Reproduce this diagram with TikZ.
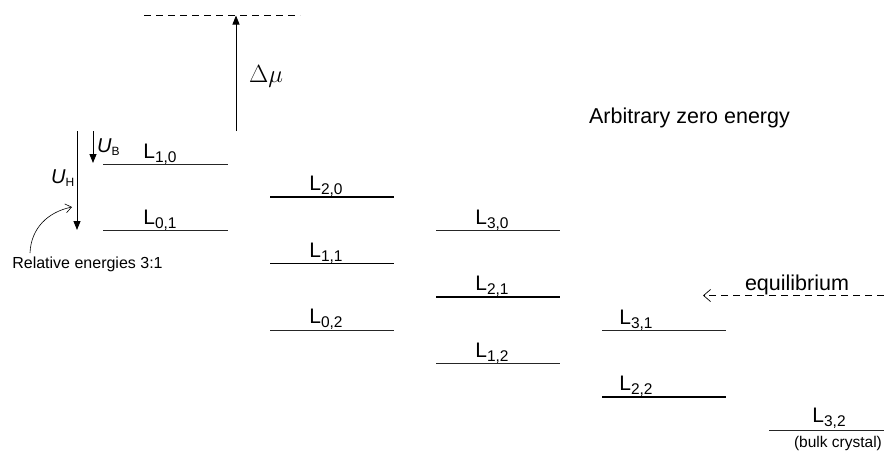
\documentclass[tikz,border=0pt]{standalone}
\usepackage{fontspec}
\setmainfont{Liberation Sans}
\usetikzlibrary{arrows.meta}
\newcommand{\lv}[1]{L\raisebox{-4pt}{\fontsize{15.5}{15.5}\selectfont #1}}
\newcommand{\uu}[1]{\textit{U}\raisebox{-2.5pt}{\fontsize{12}{12}\selectfont #1}}
\begin{document}
\begin{tikzpicture}[x=1pt,y=-1pt,
  thinlvl/.style={line width=0.7pt, draw=black!85},
  thicklvl/.style={line width=1.2pt},
  lbl/.style={anchor=base, inner sep=0pt, font=\fontsize{21}{21}\selectfont},
  txt/.style={anchor=base, inner sep=0pt, font=\fontsize{21.5}{21.5}\selectfont},
  smalltxt/.style={anchor=base, inner sep=0pt, font=\fontsize{16}{16}\selectfont},
  solidarrow/.style={line width=0.8pt, -{Triangle[length=9pt,width=7pt]}},
  dashline/.style={line width=0.8pt, dash pattern=on 7pt off 5pt},
  openarrow/.style={-{Straight Barb[length=7pt,width=12pt,line width=0.7pt]}}
]
\useasboundingbox (0,0) rectangle (884,456);

% top dashed line and Delta mu arrow
\coordinate (zl) at (144,15);
\coordinate (zr) at (300,15);
\draw[dashline] (zl) -- (zr);
\coordinate (dmbot) at (236,131);
\coordinate (dmtop) at (236,15.5);
\draw[solidarrow] (dmbot) -- (dmtop);
\node[inner sep=0pt, font=\fontsize{27}{27}\selectfont] (dmu) at (266,76) {$\Delta\mu$};

% U arrows
\coordinate (uht) at (77,131);
\coordinate (uhb) at (77,230);
\draw[solidarrow] (uht) -- (uhb);
\coordinate (ubt) at (93,131);
\coordinate (ubb) at (93,163);
\draw[solidarrow] (ubt) -- (ubb);
\node[anchor=base west, inner sep=0pt, font=\fontsize{20}{20}\selectfont] (UH) at (51,183.5) {\uu{H}};
\node[anchor=base west, inner sep=0pt, font=\fontsize{20}{20}\selectfont] (UB) at (97,152.5) {\uu{B}};

% column 1
\draw[thinlvl] (103,164) -- (228,164);
\node[lbl] (L10) at (160,158.5) {\lv{1,0}};
\draw[thinlvl] (103,230) -- (228,230);
\node[lbl] (L01) at (160,224.5) {\lv{0,1}};

% column 2
\draw[thicklvl] (270,197) -- (394,197);
\node[lbl] (L20) at (326,190.5) {\lv{2,0}};
\draw[thicklvl] (270,263.5) -- (394,263.5);
\node[lbl] (L11) at (326,257) {\lv{1,1}};
\draw[thinlvl] (270,330) -- (394,330);
\node[lbl] (L02) at (326,323.5) {\lv{0,2}};

% column 3
\draw[thinlvl] (436,230) -- (560,230);
\node[lbl] (L30) at (492,224) {\lv{3,0}};
\draw[thicklvl] (436,297) -- (560,297);
\node[lbl] (L21) at (492,290.5) {\lv{2,1}};
\draw[thinlvl] (436,363) -- (560,363);
\node[lbl] (L12) at (492,357) {\lv{1,2}};

% column 4
\draw[thinlvl] (602,330) -- (726,330);
\node[lbl] (L31) at (636,324) {\lv{3,1}};
\draw[thicklvl] (602,397) -- (726,397);
\node[lbl] (L22) at (636,390.5) {\lv{2,2}};

% column 5
\draw[thinlvl] (769,430) -- (884,430);
\node[lbl] (L32) at (829,422) {\lv{3,2}};
\node[smalltxt, font=\fontsize{15.5}{15.5}\selectfont] (bulk) at (838,447) {(bulk crystal)};

% texts
\node[txt] (zero) at (689.5,123) {Arbitrary zero energy};
\node[txt] (eqtxt) at (797,290) {equilibrium};
\coordinate (eqR) at (884,295.5);
\coordinate (eqL) at (703,295.5);
\draw[dashline, openarrow] (eqR) -- (eqL);

\node[smalltxt] (rel) at (87.5,268) {Relative energies 3:1};
\coordinate (rs) at (30,253);
\coordinate (re) at (72,207);
\draw[line width=0.6pt, -{Straight Barb[length=6pt,width=9pt,line width=0.6pt]}] (rs) .. controls (31,228) and (48,212) .. (re);
\end{tikzpicture}
\end{document}
